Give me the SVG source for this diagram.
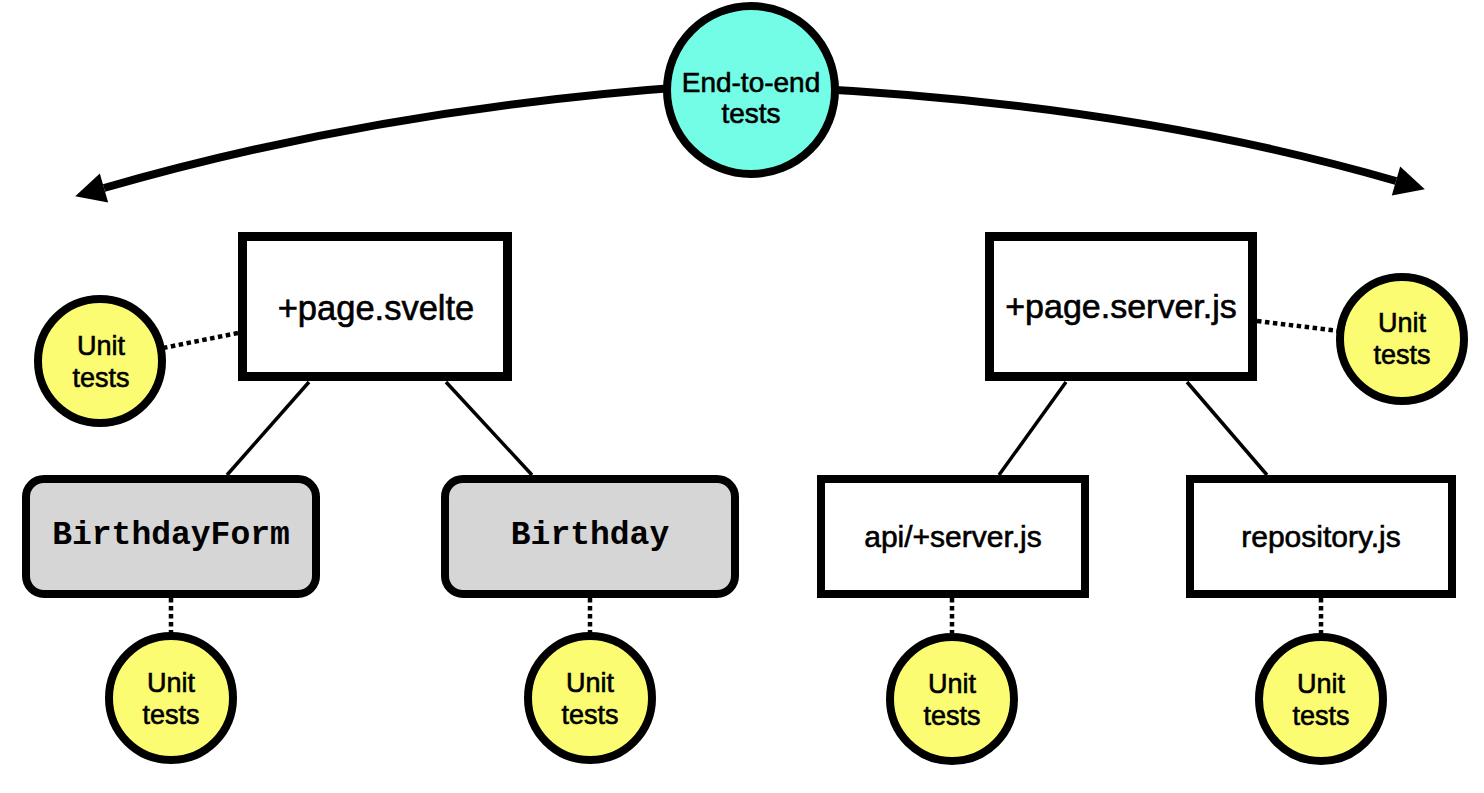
<svg xmlns="http://www.w3.org/2000/svg" width="1484" height="793" viewBox="0 0 1484 793">
<style>
.box{fill:#ffffff;stroke:#000;stroke-width:9}
.comp{fill:#d6d6d6;stroke:#000;stroke-width:8}
.file{fill:#ffffff;stroke:#000;stroke-width:8}
.unit{fill:#fcfc72;stroke:#000;stroke-width:8}
.e2e{fill:#73fde6;stroke:#000;stroke-width:8}
.edge{stroke:#000;stroke-width:3.5;fill:none}
.dot{stroke:#000;stroke-width:4.5;stroke-dasharray:4.5 3.5;fill:none}
.arc{stroke:#000;stroke-width:8;fill:none}
.sans{font-family:"Liberation Sans",Arial,sans-serif;fill:#000;stroke:#000;stroke-width:0.6;text-anchor:middle}
.mono{font-family:"Liberation Mono","Courier New",monospace;font-weight:bold;fill:#000;text-anchor:middle}
</style>
<defs>
<marker id="ah" markerUnits="userSpaceOnUse" markerWidth="32" markerHeight="32" refX="0" refY="15" orient="auto" overflow="visible">
<path d="M0,0 L30,15 L0,30 Z" fill="#000"/>
</marker>
</defs>
<rect width="1484" height="793" fill="#ffffff"/>
<g id="connectors">
<path class="arc" d="M 700 86 Q 380 108 104 188" marker-end="url(#ah)"/>
<path class="arc" d="M 800 88 Q 1130 104 1396 181" marker-end="url(#ah)"/>
<line class="edge" x1="309" y1="382" x2="227" y2="475"/>
<line class="edge" x1="446" y1="382" x2="532" y2="475"/>
<line class="edge" x1="1066" y1="382" x2="999" y2="475"/>
<line class="edge" x1="1187" y1="382" x2="1267" y2="475"/>
<line class="dot" x1="163" y1="348" x2="238" y2="333"/>
<line class="dot" x1="1257" y1="321" x2="1339" y2="331"/>
<line class="dot" x1="171" y1="598" x2="171" y2="633"/>
<line class="dot" x1="590" y1="598" x2="590" y2="633"/>
<line class="dot" x1="952" y1="598" x2="952" y2="633"/>
<line class="dot" x1="1321" y1="598" x2="1321" y2="633"/>
</g>
<g id="e2e">
<circle class="e2e" cx="751" cy="90" r="84"/>
<text class="sans" x="751" y="92" font-size="28">End-to-end</text>
<text class="sans" x="751" y="123" font-size="28">tests</text>
</g>
<g id="page-svelte">
<rect class="box" x="242.5" y="236.5" width="265" height="140"/>
<text class="sans" x="376" y="320" font-size="34.5">+page.svelte</text>
</g>
<g id="page-server">
<rect class="box" x="989.5" y="236.5" width="263" height="140"/>
<text class="sans" x="1121" y="318" font-size="34">+page.server.js</text>
</g>
<g id="unit-page-svelte">
<circle class="unit" cx="100" cy="361" r="62"/>
<text class="sans" x="101" y="355" font-size="27">Unit</text>
<text class="sans" x="101" y="387" font-size="27">tests</text>
</g>
<g id="unit-page-server">
<circle class="unit" cx="1402" cy="339" r="62"/>
<text class="sans" x="1402" y="332" font-size="27">Unit</text>
<text class="sans" x="1402" y="364" font-size="27">tests</text>
</g>
<g id="birthdayform">
<rect class="comp" x="26" y="479" width="290" height="115" rx="18"/>
<text class="mono" x="171" y="544" font-size="33">BirthdayForm</text>
</g>
<g id="birthday">
<rect class="comp" x="445" y="479" width="290" height="115" rx="18"/>
<text class="mono" x="590" y="544" font-size="33">Birthday</text>
</g>
<g id="api-server">
<rect class="file" x="821" y="479" width="264" height="115"/>
<text class="sans" x="953" y="547" font-size="30">api/+server.js</text>
</g>
<g id="repository">
<rect class="file" x="1190" y="479" width="262" height="115"/>
<text class="sans" x="1321" y="547" font-size="30">repository.js</text>
</g>
<g id="unit-birthdayform">
<circle class="unit" cx="171" cy="698" r="62"/>
<text class="sans" x="171" y="692" font-size="27">Unit</text>
<text class="sans" x="171" y="724" font-size="27">tests</text>
</g>
<g id="unit-birthday">
<circle class="unit" cx="590" cy="698" r="62"/>
<text class="sans" x="590" y="692" font-size="27">Unit</text>
<text class="sans" x="590" y="724" font-size="27">tests</text>
</g>
<g id="unit-api">
<circle class="unit" cx="952" cy="699" r="62"/>
<text class="sans" x="952" y="693" font-size="27">Unit</text>
<text class="sans" x="952" y="725" font-size="27">tests</text>
</g>
<g id="unit-repository">
<circle class="unit" cx="1321" cy="699" r="62"/>
<text class="sans" x="1321" y="693" font-size="27">Unit</text>
<text class="sans" x="1321" y="725" font-size="27">tests</text>
</g>
</svg>
